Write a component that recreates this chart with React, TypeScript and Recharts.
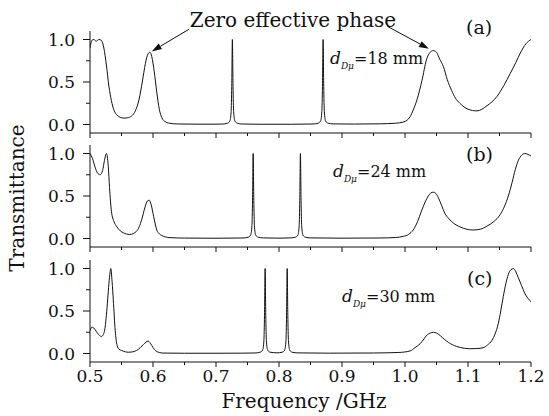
import { LineChart, Line, XAxis, YAxis, ReferenceLine } from 'recharts';

// (a) d = 18 mm
const freqA = [
  0.5, 0.503, 0.506, 0.51, 0.514, 0.518, 0.522, 0.526, 0.53, 0.534, 0.538, 0.543, 0.548, 0.554, 0.56,
  0.566, 0.572, 0.578, 0.583, 0.588, 0.592, 0.595, 0.598, 0.602, 0.606, 0.61, 0.614, 0.619, 0.626, 0.64,
  0.67, 0.7, 0.71, 0.718, 0.722, 0.724, 0.725, 0.726, 0.727, 0.728, 0.73, 0.734, 0.74, 0.77, 0.82,
  0.854, 0.862, 0.866, 0.868, 0.869, 0.87, 0.871, 0.872, 0.874, 0.878, 0.886, 0.92, 0.96, 0.985, 0.998,
  1.008, 1.013, 1.019, 1.027, 1.034, 1.04, 1.045, 1.05, 1.055, 1.061, 1.067, 1.074, 1.08, 1.087, 1.1,
  1.114, 1.13, 1.146, 1.157, 1.167, 1.176, 1.183, 1.192, 1.2,
];
const transA = [
  0.9, 0.99, 1.0, 0.98, 1.0, 0.99, 0.9, 0.7, 0.45, 0.28, 0.17, 0.11, 0.085, 0.075, 0.08,
  0.1, 0.16, 0.3, 0.5, 0.72, 0.83, 0.85, 0.8, 0.62, 0.38, 0.18, 0.08, 0.035, 0.015, 0.006,
  0.004, 0.004, 0.005, 0.015, 0.04, 0.15, 0.45, 1.0, 0.45, 0.15, 0.04, 0.015, 0.006, 0.003, 0.003,
  0.006, 0.015, 0.04, 0.15, 0.45, 1.0, 0.45, 0.15, 0.04, 0.015, 0.007, 0.005, 0.008, 0.015, 0.03,
  0.09, 0.17, 0.29, 0.52, 0.76, 0.85, 0.87, 0.85, 0.77, 0.68, 0.53, 0.4, 0.31, 0.25, 0.18,
  0.16, 0.22, 0.33, 0.46, 0.6, 0.73, 0.84, 0.95, 1.0,
];

// (b) d = 24 mm
const freqB = [
  0.5, 0.504, 0.508, 0.512, 0.516, 0.52, 0.523, 0.526, 0.529, 0.531, 0.534, 0.538, 0.542, 0.548, 0.553,
  0.563, 0.574, 0.582, 0.587, 0.591, 0.594, 0.597, 0.601, 0.606, 0.61, 0.614, 0.62, 0.627, 0.65, 0.7,
  0.743, 0.751, 0.755, 0.757, 0.758, 0.759, 0.76, 0.761, 0.763, 0.767, 0.775, 0.8,
  0.818, 0.826, 0.83, 0.832, 0.833, 0.834, 0.835, 0.836, 0.838, 0.842, 0.85, 0.9, 0.96, 0.985, 0.997,
  1.006, 1.013, 1.02, 1.026, 1.032, 1.037, 1.041, 1.045, 1.049, 1.053, 1.058, 1.063, 1.07, 1.077, 1.085,
  1.093, 1.108, 1.12, 1.13, 1.141, 1.151, 1.158, 1.164, 1.17, 1.175, 1.18, 1.185, 1.19, 1.195, 1.2,
];
const transB = [
  1.0, 0.94, 0.84, 0.77, 0.75, 0.8, 0.92, 1.0, 0.85, 0.6, 0.32, 0.2, 0.145, 0.09, 0.067,
  0.047, 0.086, 0.22, 0.36, 0.44, 0.45, 0.4, 0.26, 0.1, 0.055, 0.035, 0.018, 0.01, 0.005, 0.003,
  0.006, 0.015, 0.04, 0.15, 0.45, 1.0, 0.45, 0.15, 0.04, 0.015, 0.007, 0.004,
  0.007, 0.015, 0.04, 0.15, 0.45, 1.0, 0.45, 0.15, 0.04, 0.015, 0.007, 0.004, 0.006, 0.012, 0.025,
  0.05, 0.1, 0.2, 0.32, 0.43, 0.5, 0.535, 0.545, 0.53, 0.48, 0.39, 0.3, 0.23, 0.18, 0.145,
  0.12, 0.1, 0.11, 0.145, 0.2, 0.28, 0.38, 0.5, 0.66, 0.81, 0.92, 0.98, 1.0, 0.99, 0.97,
];

// (c) d = 30 mm
const freqC = [
  0.5, 0.503, 0.506, 0.51, 0.514, 0.518, 0.521, 0.524, 0.526, 0.528, 0.53, 0.532, 0.533, 0.535, 0.537,
  0.54, 0.543, 0.546, 0.55, 0.556, 0.561, 0.568, 0.574, 0.58, 0.585, 0.589, 0.592, 0.595, 0.598, 0.602,
  0.605, 0.61, 0.616, 0.65, 0.7, 0.74, 0.762, 0.77, 0.774, 0.776, 0.777, 0.778, 0.779, 0.78, 0.782,
  0.786, 0.797, 0.805, 0.809, 0.811, 0.812, 0.813, 0.814, 0.815, 0.817, 0.821, 0.83, 0.88, 0.95, 0.99,
  1.008, 1.016, 1.024, 1.03, 1.034, 1.04, 1.045, 1.05, 1.056, 1.062, 1.069, 1.082, 1.094, 1.103, 1.114,
  1.124, 1.131, 1.138, 1.143, 1.148, 1.152, 1.156, 1.16, 1.164, 1.168, 1.172, 1.176, 1.18, 1.185, 1.19,
  1.195, 1.2,
];
const transC = [
  0.27, 0.31, 0.3, 0.26, 0.22, 0.2, 0.22, 0.31, 0.45, 0.63, 0.82, 0.96, 1.0, 0.85, 0.63,
  0.27, 0.095, 0.05, 0.036, 0.02, 0.015, 0.02, 0.036, 0.07, 0.107, 0.135, 0.146, 0.13, 0.095, 0.05,
  0.028, 0.012, 0.005, 0.003, 0.003, 0.004, 0.006, 0.015, 0.04, 0.15, 0.45, 1.0, 0.45, 0.15, 0.04,
  0.015, 0.008, 0.015, 0.04, 0.15, 0.45, 1.0, 0.45, 0.15, 0.04, 0.015, 0.007, 0.004, 0.006, 0.012,
  0.03, 0.07, 0.115, 0.17, 0.21, 0.24, 0.25, 0.24, 0.21, 0.17, 0.13, 0.083, 0.062, 0.056, 0.058,
  0.068, 0.1, 0.155, 0.23, 0.35, 0.5, 0.67, 0.82, 0.93, 0.985, 1.0, 0.96, 0.89, 0.8, 0.71,
  0.65, 0.61,
];

const xTicks = [0.5, 0.55, 0.6, 0.65, 0.7, 0.75, 0.8, 0.85, 0.9, 0.95, 1.0, 1.05, 1.1, 1.15, 1.2];
const xTickLabels = ['0.5', '', '0.6', '', '0.7', '', '0.8', '', '0.9', '', '1.0', '', '1.1', '', '1.2'];
const yTicks = [0, 0.25, 0.5, 0.75, 1.0];
const yTickLabels = ['0.0', '', '0.5', '', '1.0'];

// arrows from the "Zero effective phase" label, in panel (a) units
const arrowFromX = [0.657, 0.972];
const arrowFromY = [1.12, 1.155];
const arrowToX = [0.598, 1.038];
const arrowToY = [0.86, 0.89];

const INK = '#111';
const FONT = '"DejaVu Serif", serif';
const PLOT_H = 102;

const labelOf = (ticks: number[], labels: string[], v: number) => {
  const i = ticks.findIndex((t) => Math.abs(t - v) < 1e-6);
  return i >= 0 ? labels[i] : '';
};

const XTick = (props: any) => {
  const { x, y, payload, showLabel } = props;
  const label = labelOf(xTicks, xTickLabels, payload.value);
  const len = label ? 5 : 3;
  return (
    <g>
      <line x1={x} x2={x} y1={y} y2={y + len} stroke={INK} strokeWidth={1} />
      {showLabel && label && (
        <text x={x} y={y + 20} textAnchor="middle" fontSize={17} fontFamily={FONT} fill={INK}>
          {label}
        </text>
      )}
    </g>
  );
};

const YTick = (props: any) => {
  const { x, y, payload } = props;
  const label = labelOf(yTicks, yTickLabels, payload.value);
  const len = label ? 7 : 4;
  return (
    <g>
      <line x1={x - len} x2={x} y1={y} y2={y} stroke={INK} strokeWidth={1} />
      {label && (
        <text x={x - 15} y={y + 6} textAnchor="end" fontSize={17} fontFamily={FONT} fill={INK}>
          {label}
        </text>
      )}
    </g>
  );
};

const Arrow = (p: any) => {
  const { x1, y1, x2, y2 } = p;
  const a = Math.atan2(y2 - y1, x2 - x1);
  const L = 10;
  const W = 3.2;
  const bx = x2 - L * Math.cos(a);
  const by = y2 - L * Math.sin(a);
  const pts = `${x2},${y2} ${bx - W * Math.sin(a)},${by + W * Math.cos(a)} ${bx + W * Math.sin(a)},${by - W * Math.cos(a)}`;
  return (
    <g>
      <line x1={x1} y1={y1} x2={bx} y2={by} stroke={INK} strokeWidth={1} />
      <polygon points={pts} fill={INK} />
    </g>
  );
};

function Panel({ freq, trans, top, marginTop, showX, children }: any) {
  const data = freq.map((f: number, i: number) => ({ f, t: trans[i] }));
  const xh = showX ? 28 : 10;
  return (
    <div style={{ position: 'absolute', left: 0, top: top - marginTop }}>
      <LineChart
        width={549}
        height={marginTop + PLOT_H + xh}
        data={data}
        margin={{ top: marginTop, right: 18, bottom: 0, left: 0 }}
      >
        <XAxis
          dataKey="f"
          type="number"
          domain={[0.5, 1.2]}
          ticks={xTicks}
          interval={0}
          allowDataOverflow
          height={xh}
          axisLine={{ stroke: INK, strokeWidth: 1 }}
          tickLine={false}
          tickSize={0}
          tickMargin={0}
          tick={(p: any) => <XTick {...p} showLabel={showX} />}
        />
        <YAxis
          type="number"
          domain={[-0.1, 1.1]}
          ticks={yTicks}
          interval={0}
          allowDataOverflow
          width={90}
          axisLine={{ stroke: INK, strokeWidth: 1 }}
          tickLine={false}
          tickSize={0}
          tickMargin={0}
          tick={(p: any) => <YTick {...p} />}
        />
        {children}
        <Line
          type="monotone"
          dataKey="t"
          stroke={INK}
          strokeWidth={1}
          dot={false}
          isAnimationActive={false}
        />
      </LineChart>
    </div>
  );
}

function DLabel({ x, y, value }: { x: number; y: number; value: string }) {
  return (
    <text x={x} y={y} fontSize={16} fontFamily={FONT} fill={INK}>
      <tspan fontStyle="italic" fontSize={17}>d</tspan>
      <tspan fontStyle="italic" fontSize={9} dy={5}>Dμ</tspan>
      <tspan dy={-5}>{value}</tspan>
    </text>
  );
}

export default function App() {
  return (
    <div style={{ position: 'absolute', left: 0, top: 0, width: 549, height: 416, background: '#fff' }}>
      <Panel freq={freqA} trans={transA} top={31} marginTop={31} showX={false}>
        {arrowFromX.map((fx, i) => (
          <ReferenceLine
            key={i}
            segment={[{ x: fx, y: arrowFromY[i] }, { x: arrowToX[i], y: arrowToY[i] }]}
            ifOverflow="visible"
            shape={(p: any) => <Arrow {...p} />}
          />
        ))}
      </Panel>
      <Panel freq={freqB} trans={transB} top={145} marginTop={10} showX={false} />
      <Panel freq={freqC} trans={transC} top={260} marginTop={10} showX />
      <svg
        width={549}
        height={416}
        style={{ position: 'absolute', left: 0, top: 0, pointerEvents: 'none' }}
      >
        <text x={293} y={27} textAnchor="middle" fontSize={20} fontFamily={FONT} fill={INK}>
          Zero effective phase
        </text>
        <text x={466} y={34} fontSize={19} fontFamily={FONT} fill={INK}>(a)</text>
        <text x={466} y={161} fontSize={19} fontFamily={FONT} fill={INK}>(b)</text>
        <text x={467} y={285} fontSize={19} fontFamily={FONT} fill={INK}>(c)</text>
        <DLabel x={330} y={64} value="=18 mm" />
        <DLabel x={333} y={177} value="=24 mm" />
        <DLabel x={342} y={302} value="=30 mm" />
        <text
          x={0}
          y={0}
          transform="translate(24,198) rotate(-90)"
          textAnchor="middle"
          fontSize={20}
          fontFamily={FONT}
          fill={INK}
        >
          Transmittance
        </text>
        <text x={304} y={408} textAnchor="middle" fontSize={20} fontFamily={FONT} fill={INK}>
          Frequency /GHz
        </text>
      </svg>
    </div>
  );
}
